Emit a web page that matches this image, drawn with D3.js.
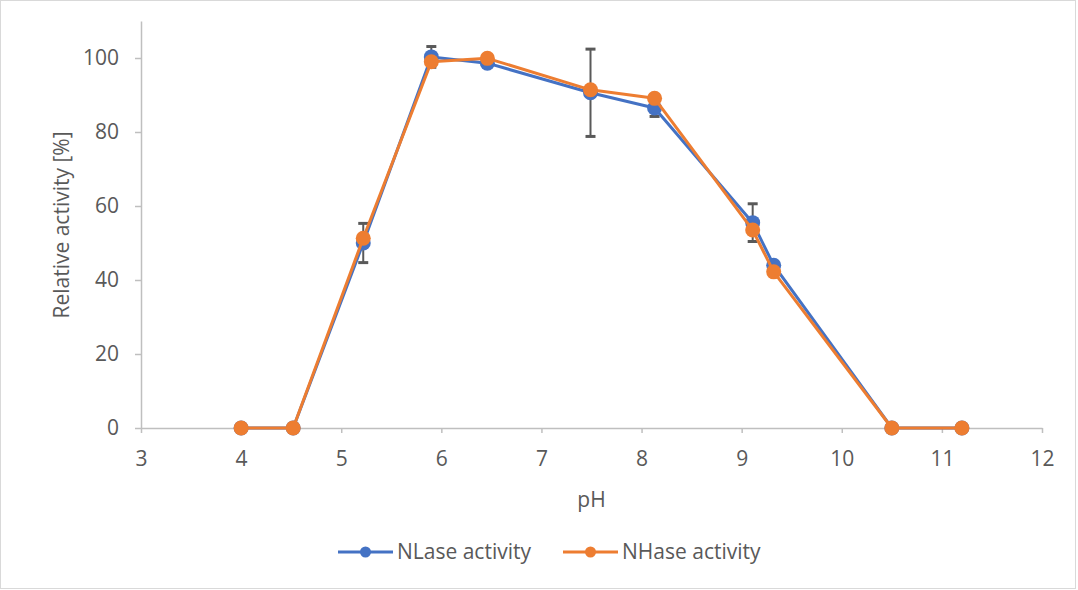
<!DOCTYPE html>
<html>
<head>
<meta charset="utf-8">
<script src="https://cdn.jsdelivr.net/npm/d3@7"></script>
<style>
  html, body { margin: 0; padding: 0; background: #fff; }
  svg { display: block; font-family: "Open Sans", sans-serif; }
</style>
</head>
<body>
<div id="chart"></div>
<script>
// pH 值与两种酶的相对活性
const phValues = [4.0, 4.52, 5.22, 5.9, 6.46, 7.49, 8.13, 9.11, 9.32, 10.5, 11.2];
const nlaseActivity = [0, 0, 50, 100.3, 98.6, 90.6, 86.5, 55.5, 44, 0, 0];
const nhaseActivity = [0, 0, 51.3, 99, 99.9, 91.4, 89.1, 53.5, 42.2, 0, 0];
const nlaseError = [0, 0, 5.3, 2.8, 0.6, 11.8, 2.3, 5.1, 0.8, 0, 0];
const xTicks = [3, 4, 5, 6, 7, 8, 9, 10, 11, 12];
const yTicks = [0, 20, 40, 60, 80, 100];
const seriesNames = ['NLase activity', 'NHase activity'];

const width = 1078, height = 590;
const margin = { top: 21, right: 36, bottom: 162, left: 141 };
const blue = '#4472C4', orange = '#ED7D31', axisGray = '#BFBFBF', textGray = '#595959';
const fontSize = '21px';

const svg = d3.select('#chart').append('svg')
  .attr('width', width).attr('height', height);

// 图表外框
svg.append('rect')
  .attr('x', 0.5).attr('y', 0.5)
  .attr('width', width - 3).attr('height', height - 2)
  .attr('fill', '#fff').attr('stroke', '#D9D9D9');

const x = d3.scaleLinear().domain([3, 12]).range([margin.left, width - margin.right]);
const y = d3.scaleLinear().domain([0, 110]).range([height - margin.bottom, margin.top]);

// X 轴
const xAxis = svg.append('g')
  .attr('transform', `translate(0,${y(0)})`)
  .call(d3.axisBottom(x).tickValues(xTicks).tickSize(5).tickPadding(18).tickSizeOuter(0));
// Y 轴
const yAxis = svg.append('g')
  .attr('transform', `translate(${x(3)},0)`)
  .call(d3.axisLeft(y).tickValues(yTicks).tickSize(6).tickPadding(16).tickSizeOuter(0));

[xAxis, yAxis].forEach(ax => {
  ax.select('.domain').attr('stroke', axisGray).attr('stroke-width', 1.5);
  ax.selectAll('.tick line').attr('stroke', axisGray).attr('stroke-width', 1.5);
  ax.selectAll('.tick text').attr('fill', textGray).style('font-size', fontSize)
    .style('font-family', '"Open Sans", sans-serif');
});

// 轴标题
svg.append('text')
  .attr('x', (x(3) + x(12)) / 2).attr('y', 507)
  .attr('text-anchor', 'middle').attr('fill', textGray)
  .style('font-size', fontSize).text('pH');
svg.append('text')
  .attr('transform', 'translate(69,225) rotate(-90)')
  .attr('text-anchor', 'middle').attr('fill', textGray)
  .style('font-size', fontSize).text('Relative activity [%]');

// 误差线
const errData = phValues.map((p, i) => ({ p, v: nlaseActivity[i], e: nlaseError[i] }))
  .filter(d => d.e > 0);
const errG = svg.append('g').attr('stroke', textGray);
errG.selectAll('line.bar').data(errData).join('line')
  .attr('class', 'bar')
  .attr('x1', d => x(d.p)).attr('x2', d => x(d.p))
  .attr('y1', d => y(d.v + d.e)).attr('y2', d => y(d.v - d.e))
  .attr('stroke-width', 2);
['top', 'bottom'].forEach(side => {
  errG.selectAll('line.cap-' + side).data(errData).join('line')
    .attr('class', 'cap-' + side)
    .attr('x1', d => x(d.p) - 5).attr('x2', d => x(d.p) + 5)
    .attr('y1', d => y(side === 'top' ? d.v + d.e : d.v - d.e))
    .attr('y2', d => y(side === 'top' ? d.v + d.e : d.v - d.e))
    .attr('stroke-width', 3);
});

// 折线与标记
const line = d3.line().x(d => x(d[0])).y(d => y(d[1]));
const series = [
  { name: seriesNames[0], color: blue, values: nlaseActivity },
  { name: seriesNames[1], color: orange, values: nhaseActivity }
];
series.forEach(s => {
  const pts = phValues.map((p, i) => [p, s.values[i]]);
  svg.append('path').datum(pts)
    .attr('d', line).attr('fill', 'none')
    .attr('stroke', s.color).attr('stroke-width', 3).attr('stroke-linejoin', 'round');
  svg.append('g').selectAll('circle').data(pts).join('circle')
    .attr('cx', d => x(d[0])).attr('cy', d => y(d[1])).attr('r', 7.5)
    .attr('fill', s.color);
});

// 图例
const legendX = [338, 563];
series.forEach((s, i) => {
  const g = svg.append('g').attr('transform', `translate(${legendX[i]},552)`);
  g.append('line').attr('x1', 0).attr('x2', 55)
    .attr('stroke', s.color).attr('stroke-width', 3);
  g.append('circle').attr('cx', 27.5).attr('r', 5.5).attr('fill', s.color);
  g.append('text').attr('x', 59).attr('y', 7)
    .attr('fill', textGray).style('font-size', fontSize).text(s.name);
});
</script>
</body>
</html>
